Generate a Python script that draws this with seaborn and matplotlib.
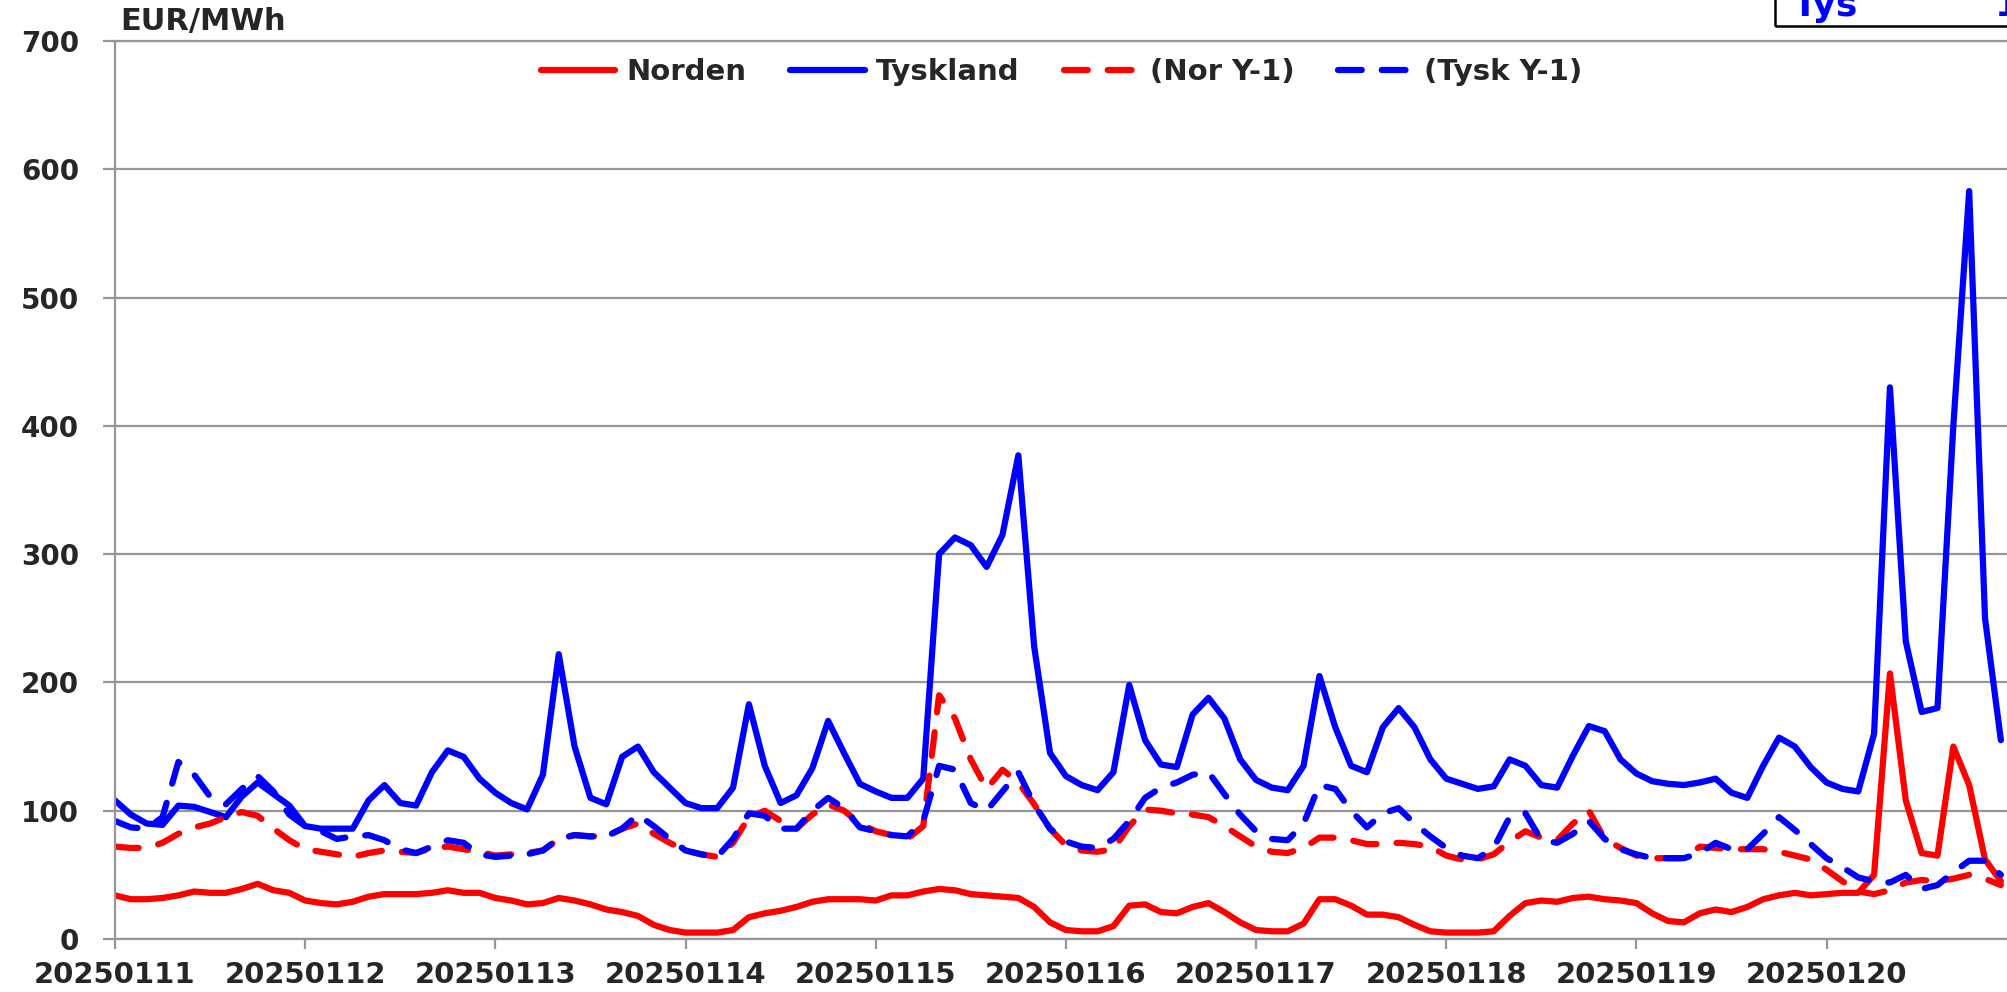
import numpy as np
import pandas as pd
import matplotlib
matplotlib.use("Agg")
import matplotlib.pyplot as plt
import seaborn as sns
from matplotlib.patches import Rectangle

# two-hourly prices, starting 2025-01-11 00:00
hours = np.arange(0, 240, 2)

tyskland = [108, 97, 90, 89, 104, 103, 99, 95, 111, 122, 113, 104,
            88, 86, 86, 86, 108, 120, 106, 104, 130, 147, 142, 125,
            114, 106, 101, 128, 222, 150, 110, 105, 142, 150, 130, 118,
            106, 102, 102, 118, 183, 135, 106, 112, 133, 170, 145, 121,
            115, 110, 110, 125, 300, 313, 307, 290, 315, 377, 228, 145,
            127, 120, 116, 130, 198, 155, 136, 134, 175, 188, 172, 140,
            124, 118, 116, 135, 205, 165, 135, 130, 165, 180, 165, 140,
            125, 121, 117, 119, 140, 135, 120, 118, 143, 166, 162, 140,
            129, 123, 121, 120, 122, 125, 114, 110, 135, 157, 150, 134,
            122, 117, 115, 160, 430, 232, 177, 180, 400, 583, 250, 155]

norden = [34, 31, 31, 32, 34, 37, 36, 36, 39, 43, 38, 36,
          30, 28, 27, 29, 33, 35, 35, 35, 36, 38, 36, 36,
          32, 30, 27, 28, 32, 30, 27, 23, 21, 18, 11, 7,
          5, 5, 5, 7, 17, 20, 22, 25, 29, 31, 31, 31,
          30, 34, 34, 37, 39, 38, 35, 34, 33, 32, 25, 13,
          7, 6, 6, 10, 26, 27, 21, 20, 25, 28, 21, 13,
          7, 6, 6, 12, 31, 31, 26, 19, 19, 17, 11, 6,
          5, 5, 5, 6, 18, 28, 30, 29, 32, 33, 31, 30,
          28, 20, 14, 13, 20, 23, 21, 25, 31, 34, 36, 34,
          35, 36, 36, 50, 207, 108, 67, 65, 150, 120, 62, 45]

nor_y1 = [72, 71, 71, 75, 82, 87, 90, 95, 99, 96, 86, 77,
          70, 68, 66, 64, 67, 69, 68, 67, 71, 72, 70, 68,
          65, 66, 67, 69, 78, 81, 80, 80, 86, 90, 82, 75,
          69, 66, 64, 75, 95, 100, 92, 86, 97, 105, 100, 90,
          84, 81, 78, 88, 190, 172, 140, 117, 132, 122, 105, 86,
          73, 69, 68, 70, 88, 101, 100, 98, 97, 95, 88, 80,
          72, 68, 67, 71, 79, 79, 77, 74, 74, 75, 74, 72,
          65, 62, 62, 66, 76, 84, 79, 77, 90, 100, 78, 71,
          65, 63, 63, 63, 72, 71, 70, 70, 70, 68, 65, 62,
          54, 45, 37, 35, 38, 44, 46, 45, 47, 50, 47, 42]

tysk_y1 = [92, 87, 86, 95, 138, 128, 111, 105, 117, 127, 115, 97,
           88, 84, 78, 80, 81, 77, 70, 67, 72, 77, 75, 66,
           64, 65, 66, 69, 78, 81, 80, 80, 86, 97, 88, 78,
           69, 66, 64, 78, 98, 96, 86, 86, 100, 110, 102, 87,
           84, 81, 80, 92, 135, 132, 106, 100, 115, 130, 105, 86,
           76, 72, 71, 78, 92, 110, 118, 122, 128, 130, 113, 97,
           84, 78, 77, 90, 120, 117, 100, 87, 98, 102, 90, 80,
           71, 65, 63, 71, 95, 98, 77, 75, 82, 92, 78, 70,
           66, 63, 63, 63, 67, 75, 70, 70, 82, 95, 85, 74,
           63, 56, 48, 45, 44, 50, 39, 42, 52, 61, 61, 50]

day_labels = ["20250111", "20250112", "20250113", "20250114", "20250115",
              "20250116", "20250117", "20250118", "20250119", "20250120"]

series = [("Norden", norden, "#FF0000", "-"),
          ("Tyskland", tyskland, "#0000FF", "-"),
          ("(Nor Y-1)", nor_y1, "#FF0000", "--"),
          ("(Tysk Y-1)", tysk_y1, "#0000FF", "--")]

sns.set_style("white")
plt.rcParams["font.family"] = ["DejaVu Sans"]
plt.rcParams["font.weight"] = "bold"

W, H = 2008, 992
fig = plt.figure(figsize=(W / 100, H / 100), dpi=100)
ax = fig.add_axes([115 / W, 1 - 939 / H, (W - 115) / W, (939 - 41) / H])

grey = "#969696"
for name, vals, col, ls in series:
    df = pd.DataFrame({"hour": hours, "price": vals})
    sns.lineplot(data=df, x="hour", y="price", ax=ax, color=col,
                 linewidth=4.5, label=name)
    line = ax.lines[-1]
    line.set_solid_capstyle("round")
    line.set_solid_joinstyle("round")
    if ls == "--":
        line.set_dashes((3.8, 3.2))
        line.set_dash_capstyle("round")

ax.set_xlim(0, 238.9)
ax.set_ylim(0, 700)
ax.set_xticks(np.arange(0, 240, 24))
ax.set_xticklabels(day_labels)
ax.set_yticks(np.arange(0, 701, 100))
ax.set_xlabel("")
ax.set_ylabel("")

ax.yaxis.grid(True, color=grey, linewidth=1.6)
ax.xaxis.grid(False)
ax.set_axisbelow(True)
for s in ["left", "bottom", "top"]:
    ax.spines[s].set_color(grey)
    ax.spines[s].set_linewidth(1.6)
ax.spines["right"].set_visible(False)

ax.tick_params(axis="y", which="major", direction="out", length=9, width=1.6,
               color=grey, pad=17, labelsize=20, left=True)
ax.tick_params(axis="x", which="major", direction="out", length=7, width=1.6,
               color=grey, pad=9, labelsize=21, bottom=True)
for t in ax.get_xticklabels() + ax.get_yticklabels():
    t.set_fontweight("bold")

ax.legend(loc="center", bbox_to_anchor=(0.5, 0.9655), ncol=4, frameon=False,
          prop={"weight": "bold", "size": 21}, handlelength=2.55,
          handletextpad=0.4, columnspacing=1.5)

fig.text(120 / W, 1 - 30 / H, "EUR/MWh", ha="left", va="baseline",
         fontsize=22, fontweight="bold")

# partly visible info box at the top right corner
fig.patches.append(Rectangle((1775 / W, 1 - 25.7 / H), 0.2, 0.1,
                             transform=fig.transFigure, fill=False,
                             edgecolor="black", linewidth=1.8))
fig.text(1793 / W, 1 - 16 / H, "Tys", ha="left", va="baseline",
         fontsize=26, fontweight="bold", color="#0000FF")
fig.text(1995 / W, 1 - 16 / H, "1", ha="left", va="baseline",
         fontsize=26, fontweight="bold", color="#0000FF")

fig.savefig("out.png", dpi=100)
